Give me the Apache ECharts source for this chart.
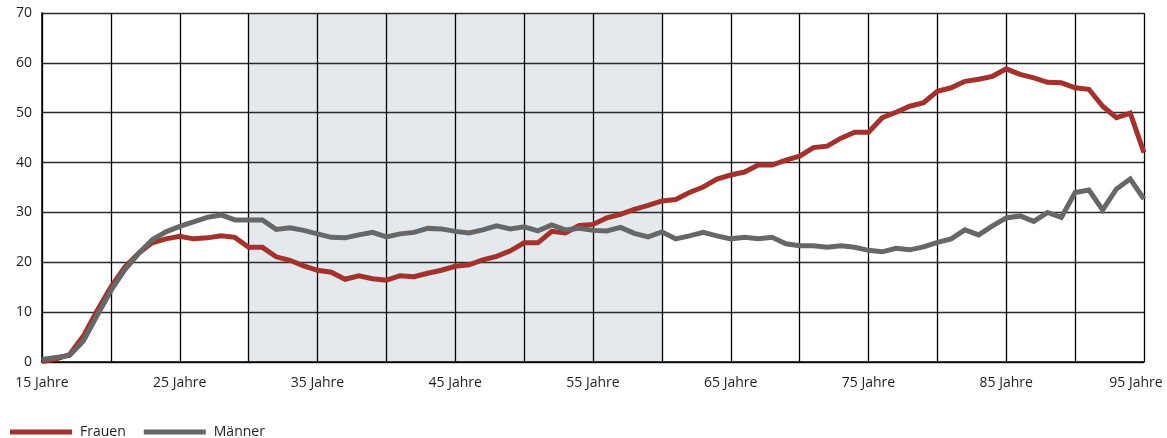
<!DOCTYPE html>
<html>
<head>
<meta charset="utf-8">
<script src="https://cdn.jsdelivr.net/npm/echarts@6/dist/echarts.min.js"></script>
<style>
  html, body { margin: 0; padding: 0; background: #fff; }
  #chart { width: 1167px; height: 438px; }
</style>
</head>
<body>
<div id="chart"></div>
<script>
// Alter in Jahren (15 bis 95)
const ages = Array.from({ length: 81 }, (_, i) => 15 + i);

const frauen = [
  0.1, 0.6, 1.5, 5.2, 10.3, 15.0, 19.0, 21.8, 23.9, 24.7,
  25.2, 24.7, 24.9, 25.3, 25.0, 23.0, 23.0, 21.1, 20.4, 19.3,
  18.4, 18.0, 16.6, 17.3, 16.7, 16.4, 17.3, 17.1, 17.8, 18.4,
  19.2, 19.5, 20.5, 21.2, 22.3, 23.9, 23.9, 26.2, 25.9, 27.4,
  27.6, 28.9, 29.6, 30.6, 31.4, 32.3, 32.6, 34.0, 35.1, 36.7,
  37.5, 38.1, 39.5, 39.5, 40.5, 41.3, 43.0, 43.3, 44.9, 46.1,
  46.1, 49.0, 50.1, 51.3, 52.0, 54.3, 55.0, 56.3, 56.7, 57.3,
  58.8, 57.7, 57.0, 56.1, 56.0, 55.0, 54.7, 51.3, 49.0, 49.9,
  42.0
];

const maenner = [
  0.5, 0.9, 1.3, 4.2, 9.3, 14.3, 18.5, 21.7, 24.5, 26.1,
  27.2, 28.1, 29.0, 29.5, 28.5, 28.5, 28.5, 26.6, 26.9, 26.4,
  25.7, 25.0, 24.9, 25.5, 26.0, 25.1, 25.7, 26.0, 26.8, 26.7,
  26.2, 25.9, 26.5, 27.3, 26.7, 27.1, 26.3, 27.5, 26.5, 26.8,
  26.4, 26.3, 27.0, 25.8, 25.1, 26.1, 24.7, 25.3, 26.0, 25.3,
  24.7, 25.0, 24.7, 25.0, 23.7, 23.3, 23.3, 23.0, 23.3, 23.0,
  22.4, 22.1, 22.8, 22.5, 23.1, 24.0, 24.7, 26.5, 25.5, 27.3,
  28.9, 29.3, 28.2, 30.0, 29.0, 34.0, 34.5, 30.5, 34.7, 36.7,
  32.7
];

// hervorgehobener Altersbereich
const bandStart = 30;
const bandEnd = 60;

const xTickLabels = [15, 25, 35, 45, 55, 65, 75, 85, 95];
const seriesNames = ['Frauen', 'Männer'];

const FONT = '"Open Sans", "DejaVu Sans", sans-serif';
const TEXT = '#1e1e1e';

const chart = echarts.init(document.getElementById('chart'), null, { renderer: 'canvas' });

chart.setOption({
  animation: false,
  backgroundColor: '#ffffff',
  grid: { left: 42, right: 23, top: 13, bottom: 76, containLabel: false },
  legend: {
    data: seriesNames,
    left: 5,
    top: 420,
    icon: 'rect',
    itemWidth: 62,
    itemHeight: 5,
    itemGap: 18,
    textStyle: { fontFamily: FONT, fontSize: 14, color: TEXT, padding: [0, 0, 0, 3] }
  },
  xAxis: {
    type: 'value',
    min: 15,
    max: 95,
    interval: 5,
    z: 2,
    axisLine: { show: true, lineStyle: { color: '#000', width: 1.5 } },
    axisTick: { show: false },
    splitLine: { show: true, lineStyle: { color: '#000', width: 1.3 } },
    axisLabel: {
      margin: 14,
      showMinLabel: true,
      showMaxLabel: true,
      hideOverlap: false,
      fontFamily: FONT,
      fontSize: 14,
      color: TEXT,
      formatter: function (v) {
        if (xTickLabels.indexOf(v) < 0) return '';
        if (v === xTickLabels[xTickLabels.length - 1]) return '{last|' + v + ' Jahre}';
        return v + ' Jahre';
      },
      rich: {
        last: { fontFamily: FONT, fontSize: 14, color: TEXT, padding: [0, 16, 0, 0] }
      }
    }
  },
  yAxis: {
    type: 'value',
    min: 0,
    max: 70,
    interval: 10,
    z: 2,
    axisLine: { show: true, lineStyle: { color: '#000', width: 1.5 } },
    axisTick: { show: false },
    splitLine: { show: true, lineStyle: { color: '#2a2a2a', width: 1.3 } },
    axisLabel: {
      margin: 10,
      fontFamily: FONT,
      fontSize: 14,
      color: TEXT,
      padding: [5, 0, 0, 0]
    }
  },
  series: [
    {
      name: 'Bereich',
      type: 'line',
      data: [],
      z: 0,
      silent: true,
      markArea: {
        silent: true,
        z: 0,
        itemStyle: { color: '#e4e9ee' },
        data: [[{ xAxis: bandStart }, { xAxis: bandEnd }]]
      }
    },
    {
      name: seriesNames[0],
      type: 'line',
      data: ages.map((a, i) => [a, frauen[i]]),
      showSymbol: false,
      symbol: 'none',
      color: '#a4312b',
      lineStyle: { color: '#a4312b', width: 5, join: 'miter' },
      z: 5
    },
    {
      name: seriesNames[1],
      type: 'line',
      data: ages.map((a, i) => [a, maenner[i]]),
      showSymbol: false,
      symbol: 'none',
      color: '#676767',
      lineStyle: { color: '#676767', width: 5, join: 'miter' },
      z: 6
    }
  ]
});
</script>
</body>
</html>
